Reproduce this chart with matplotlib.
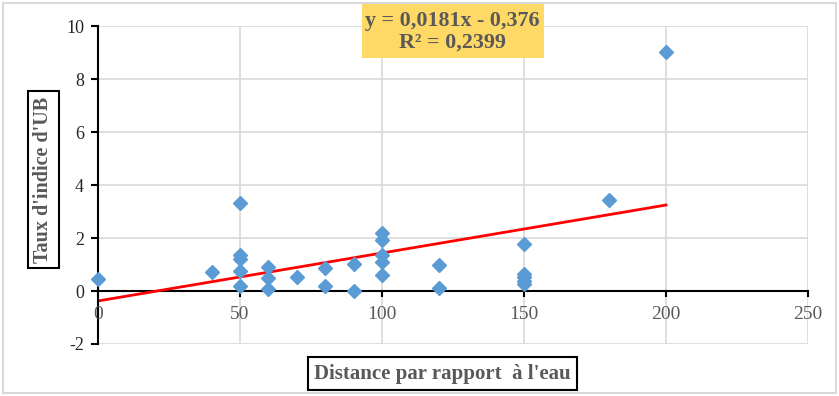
import numpy as np
import matplotlib.pyplot as plt
from matplotlib.patches import Rectangle

# distance to water vs UB index rate
distance = [0, 40, 50, 50, 50, 50, 50, 60, 60, 60, 70, 80, 80, 90, 90,
            100, 100, 100, 100, 100, 120, 120, 150, 150, 150, 150, 150, 180, 200]
taux_ub = [0.46, 0.73, 3.31, 1.35, 1.22, 0.76, 0.18, 0.90, 0.49, 0.09, 0.51, 0.85, 0.18, 1.01, 0.01,
           2.18, 1.92, 1.35, 1.09, 0.60, 0.97, 0.10, 1.77, 0.63, 0.51, 0.38, 0.26, 3.42, 9.02]

# trendline as given on the chart
slope = 0.0181
intercept = -0.376
equation_text = "y = 0,0181x - 0,376\nR² = 0,2399"

x_ticks = [0, 50, 100, 150, 200, 250]
y_ticks = [-2, 0, 2, 4, 6, 8, 10]

plt.rcParams['font.family'] = ['Liberation Serif', 'DejaVu Serif']
plt.rcParams['axes.unicode_minus'] = False

W, H = 839, 396
fig = plt.figure(figsize=(W / 100, H / 100), dpi=100)
ax = fig.add_axes([98 / W, 1 - 344 / H, (808 - 98) / W, (344 - 26) / H])

# chart area border
fig.patches.append(Rectangle((3 / W, 3 / H), 1 - 6 / W, 1 - 6 / H, transform=fig.transFigure,
                             fill=False, edgecolor='#d9d9d9', linewidth=1.5))

ax.set_xlim(0, 250)
ax.set_ylim(-2, 10)
ax.set_xticks(x_ticks)
ax.set_yticks(y_ticks)
ax.grid(True, color='#d9d9d9', linewidth=1.2)
ax.set_axisbelow(True)

for s in ['top', 'right', 'bottom']:
    ax.spines[s].set_visible(False)
ax.spines['left'].set_color('black')
ax.spines['left'].set_linewidth(1.5)
ax.axhline(0, color='black', linewidth=1.5, zorder=1.5)

ax.tick_params(axis='y', direction='out', length=5, width=1.5, color='black',
               labelsize=13, labelcolor='#262626', pad=5)
ax.tick_params(axis='x', length=0)
ax.set_xticklabels([])
# x tick marks on the y=0 line, labels just below it
for xv in x_ticks:
    ax.plot([xv, xv], [0, -0.19], color='black', linewidth=1.5, clip_on=False, zorder=1.5)
    ax.text(xv, -0.9, str(xv), ha='center', va='center', fontsize=14, color='#595959')

xs = np.array([0, 200])
ax.plot(xs, slope * xs + intercept, color='#ff0000', linewidth=2, zorder=2)
ax.plot(distance, taux_ub, linestyle='none', marker='D', markersize=7.5,
        color='#5b9bd5', zorder=3, clip_on=False)

# trendline label
fig.patches.append(Rectangle((362 / W, 1 - 58 / H), 182 / W, 54 / H, transform=fig.transFigure,
                             facecolor='#ffd966', edgecolor='none'))
fig.text(452 / W, 1 - 32 / H, equation_text, ha='center', va='center', fontsize=15.8,
         fontweight='bold', color='#595959', linespacing=1.1)

fig.text(43.5 / W, 1 - 179.5 / H, "Taux d'indice d'UB", rotation=90, ha='center', va='center',
         fontsize=14.5, fontweight='bold', color='#595959',
         bbox=dict(boxstyle='square,pad=0.25', facecolor='white', edgecolor='black', linewidth=1.5))

fig.text(442.5 / W, 1 - 373.5 / H, "Distance par rapport  à l'eau", ha='center', va='center',
         fontsize=15, fontweight='bold', color='#595959',
         bbox=dict(boxstyle='square,pad=0.3', facecolor='white', edgecolor='black', linewidth=1.5))

fig.savefig('out.png', dpi=100)
